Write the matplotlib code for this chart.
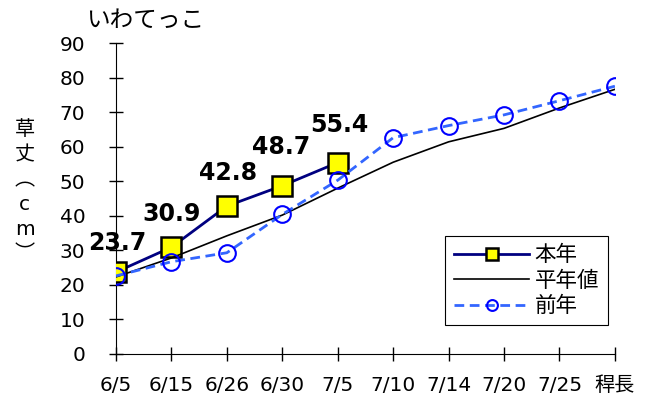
import matplotlib
matplotlib.use('Agg')
import matplotlib.pyplot as plt

plt.rcParams['font.family'] = ['DejaVu Sans', 'Noto Sans CJK JP']

dates = ['6/5', '6/15', '6/26', '6/30', '7/5', '7/10', '7/14', '7/20', '7/25', '稈長']
this_year = [23.7, 30.9, 42.8, 48.7, 55.4]
normal_year = [22.3, 27.8, 34.2, 40.2, 48.0, 55.5, 61.4, 65.3, 71.2, 76.6]
last_year = [22.6, 26.7, 29.3, 40.4, 50.3, 62.6, 66.1, 69.2, 73.3, 77.5]

# label offsets in points (dx, dy)
label_offsets = [(1, 21), (0, 24), (1, 24), (-1, 28), (1, 27)]

fig = plt.figure(figsize=(6.5, 4.12), dpi=100)
ax = fig.add_axes([0.1785, 0.1408, 0.7675, 0.7548])

x = list(range(len(dates)))
ax.plot(x[:len(this_year)], this_year, color='#000080', lw=2, marker='s',
        markersize=14, markerfacecolor='#FFFF00', markeredgecolor='black',
        markeredgewidth=1.8, label='本年', zorder=3)
ax.plot(x, normal_year, color='black', lw=1.2, label='平年値', zorder=4)
ax.plot(x, last_year, color='#3366FF', lw=2, ls=(0, (3.5, 2)), marker='o',
        markersize=12, markerfacecolor='none', markeredgecolor='#0000FF',
        markeredgewidth=1.5, label='前年', zorder=5)

for i, v in enumerate(this_year):
    ax.annotate(f'{v:.1f}', (i, v), xytext=label_offsets[i], textcoords='offset points',
                ha='center', va='center', fontsize=17, fontweight='bold', zorder=6)

ax.set_xlim(0, 9)
ax.set_ylim(0, 90)
ax.set_xticks(x)
ax.set_xticklabels(dates)
ax.set_yticks(range(0, 91, 10))
ax.tick_params(direction='inout', length=10, width=1, labelsize=14.5)
ax.tick_params(axis='y', pad=17)
ax.tick_params(axis='x', pad=11)
for s in ['top', 'right']:
    ax.spines[s].set_visible(False)

ax.set_title('いわてっこ', loc='left', x=-0.06, y=1.025, fontsize=17)
fig.text(0.038, 0.534, '草\n丈\n︵\nc\nm\n︶', ha='center', va='center',
         fontsize=14.5, linespacing=1.4)

leg = ax.legend(loc='lower right', bbox_to_anchor=(0.986, 0.093), borderaxespad=0,
                fontsize=15.5, frameon=True, fancybox=False, edgecolor='black',
                framealpha=1, handlelength=3.5, borderpad=0.4, labelspacing=0.25,
                handletextpad=0.25, markerscale=0.65)
leg.get_frame().set_linewidth(0.8)

fig.savefig('out.png', dpi=100)
